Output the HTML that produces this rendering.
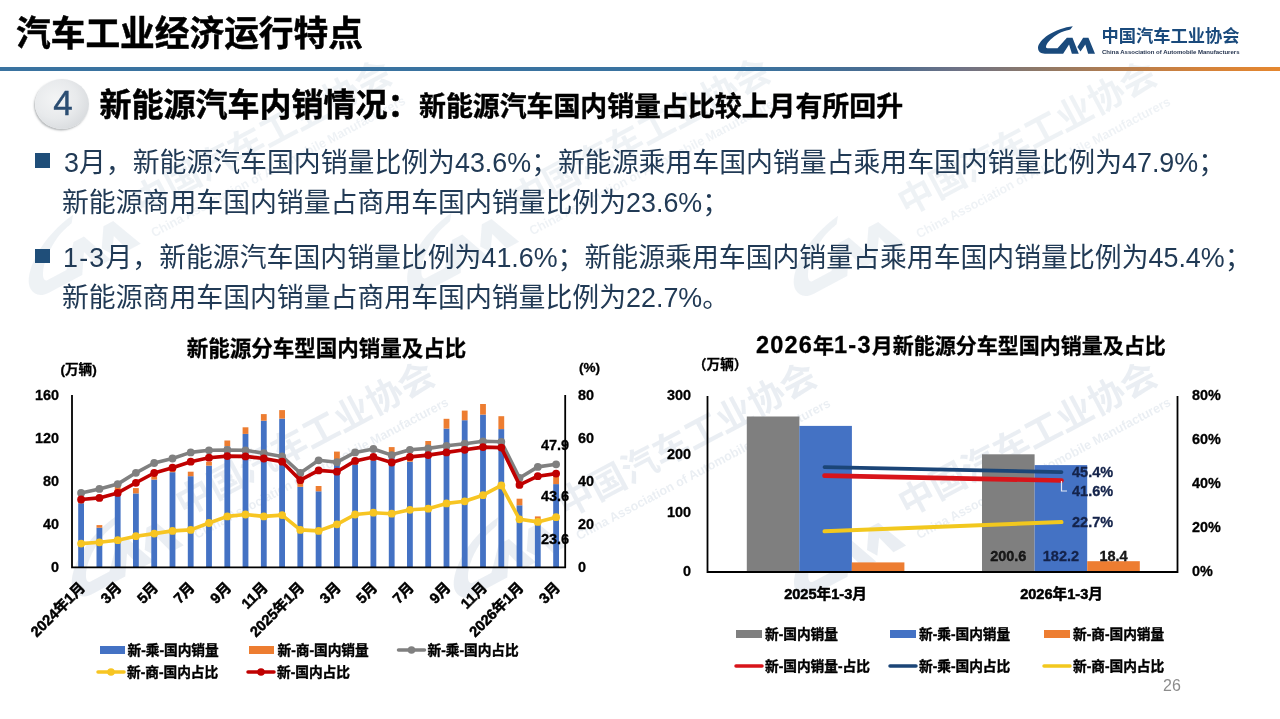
<!DOCTYPE html>
<html lang="zh-CN">
<head>
<meta charset="utf-8">
<title>汽车工业经济运行特点</title>
<style>
html,body{margin:0;padding:0;background:#fff;}
body{width:1280px;height:719px;position:relative;overflow:hidden;font-family:"Liberation Sans","Noto Sans CJK SC",sans-serif;color:#1a1a1a;}
.abs{position:absolute;white-space:nowrap;}
#title{left:16px;top:10px;font-size:34.7px;font-weight:700;line-height:48px;color:#000;-webkit-text-stroke:0.5px #000;}
#hline{left:0;top:66.5px;width:1280px;height:4.5px;background:linear-gradient(90deg,#3a73a0 0%,#3a73a0 58%,#4a6c90 69%,#6f7285 75%,#8d7868 81%,#b57d4e 87.5%,#d4823a 94%,#e5872f 100%);}
#num{left:35px;top:78.5px;width:54px;height:50px;border-radius:50%;background:radial-gradient(ellipse at 38% 40%,#f3f4f5 0%,#e8eaec 45%,#d6d9dc 82%,#c6cace 100%);box-shadow:-1px 1.5px 2px rgba(110,115,120,.5);text-align:center;line-height:48px;font-size:35px;color:#2b4d72;-webkit-text-stroke:0.4px #2b4d72;text-indent:2px;}
#sec1{left:99.5px;top:82.5px;font-size:32px;font-weight:700;line-height:44px;color:#000;-webkit-text-stroke:0.5px #000;}
#sec2{left:419px;top:86.5px;font-size:26.9px;font-weight:700;line-height:40px;color:#000;-webkit-text-stroke:0.4px #000;}
.bul{width:14.5px;height:14.5px;background:#1f4e79;}
.bt{font-size:26.86px;line-height:38px;color:#213a55;}
#pg{left:1163px;top:676px;font-size:16px;color:#8c8c8c;line-height:20px;}
svg text{font-family:"Liberation Sans","Noto Sans CJK SC",sans-serif;fill:#000;stroke:#000;stroke-width:0.3px;}
.ax{font-size:14.4px;font-weight:700;}
.un{font-size:13.6px;font-weight:700;}
.ct{font-size:21.5px;font-weight:700;}
.ct2{font-size:21px;font-weight:700;}
.n2{font-size:23.5px;letter-spacing:1.2px;}
.dl{font-size:14.5px;font-weight:700;}
.dl2{font-size:14.5px;font-weight:700;fill:#14234a;stroke:#14234a;}
.dl3{font-size:14.5px;font-weight:700;fill:#1a1a1a;}
.xl{font-size:14.6px;font-weight:700;stroke-width:0.5px;}
.lg{font-size:13.7px;font-weight:700;stroke-width:0.4px;}
svg text.lc{font-size:17.2px;font-weight:700;stroke:none;}
svg text.le{font-size:6.2px;font-weight:700;stroke:none;}
</style>
</head>
<body>
<svg class="abs" style="left:0;top:0" width="1280" height="719" viewBox="0 0 1280 719">
<g transform="translate(30,288) rotate(-28) scale(2.08)" opacity="0.068" fill="#1a4a7c"><g transform="translate(-8,-27.5) scale(0.0625)"><path d="M685,98 C560,112 400,165 290,240 C195,305 128,385 128,445 C128,505 170,540 240,540 L530,540 L625,390 L670,540 L780,540 L680,285 L590,285 L440,450 L280,450 C252,450 250,425 265,395 C300,325 390,250 500,195 C560,168 615,158 645,150 Z"/><path d="M850,285 L935,285 L1040,540 L930,540 L885,390 L808,505 L758,430 Z"/></g><text x="63.6" y="-5.6" class="lc" style="fill:#1a4a7c" textLength="138" lengthAdjust="spacingAndGlyphs">中国汽车工业协会</text><text x="64" y="6.6" class="le" style="fill:#1a4a7c" textLength="137.5" lengthAdjust="spacingAndGlyphs">China Association of Automobile Manufacturers</text></g>
<g transform="translate(408.4,286) rotate(-28) scale(2.08)" opacity="0.068" fill="#1a4a7c"><g transform="translate(-8,-27.5) scale(0.0625)"><path d="M685,98 C560,112 400,165 290,240 C195,305 128,385 128,445 C128,505 170,540 240,540 L530,540 L625,390 L670,540 L780,540 L680,285 L590,285 L440,450 L280,450 C252,450 250,425 265,395 C300,325 390,250 500,195 C560,168 615,158 645,150 Z"/><path d="M850,285 L935,285 L1040,540 L930,540 L885,390 L808,505 L758,430 Z"/></g><text x="63.6" y="-5.6" class="lc" style="fill:#1a4a7c" textLength="138" lengthAdjust="spacingAndGlyphs">中国汽车工业协会</text><text x="64" y="6.6" class="le" style="fill:#1a4a7c" textLength="137.5" lengthAdjust="spacingAndGlyphs">China Association of Automobile Manufacturers</text></g>
<g transform="translate(795,289) rotate(-28) scale(2.08)" opacity="0.068" fill="#1a4a7c"><g transform="translate(-8,-27.5) scale(0.0625)"><path d="M685,98 C560,112 400,165 290,240 C195,305 128,385 128,445 C128,505 170,540 240,540 L530,540 L625,390 L670,540 L780,540 L680,285 L590,285 L440,450 L280,450 C252,450 250,425 265,395 C300,325 390,250 500,195 C560,168 615,158 645,150 Z"/><path d="M850,285 L935,285 L1040,540 L930,540 L885,390 L808,505 L758,430 Z"/></g><text x="63.6" y="-5.6" class="lc" style="fill:#1a4a7c" textLength="138" lengthAdjust="spacingAndGlyphs">中国汽车工业协会</text><text x="64" y="6.6" class="le" style="fill:#1a4a7c" textLength="137.5" lengthAdjust="spacingAndGlyphs">China Association of Automobile Manufacturers</text></g>
<g transform="translate(73,589.5) rotate(-28) scale(2.08)" opacity="0.088" fill="#1a4a7c"><g transform="translate(-8,-27.5) scale(0.0625)"><path d="M685,98 C560,112 400,165 290,240 C195,305 128,385 128,445 C128,505 170,540 240,540 L530,540 L625,390 L670,540 L780,540 L680,285 L590,285 L440,450 L280,450 C252,450 250,425 265,395 C300,325 390,250 500,195 C560,168 615,158 645,150 Z"/><path d="M850,285 L935,285 L1040,540 L930,540 L885,390 L808,505 L758,430 Z"/></g><text x="63.6" y="-5.6" class="lc" style="fill:#1a4a7c" textLength="138" lengthAdjust="spacingAndGlyphs">中国汽车工业协会</text><text x="64" y="6.6" class="le" style="fill:#1a4a7c" textLength="137.5" lengthAdjust="spacingAndGlyphs">China Association of Automobile Manufacturers</text></g>
<g transform="translate(455,590.6) rotate(-28) scale(2.08)" opacity="0.088" fill="#1a4a7c"><g transform="translate(-8,-27.5) scale(0.0625)"><path d="M685,98 C560,112 400,165 290,240 C195,305 128,385 128,445 C128,505 170,540 240,540 L530,540 L625,390 L670,540 L780,540 L680,285 L590,285 L440,450 L280,450 C252,450 250,425 265,395 C300,325 390,250 500,195 C560,168 615,158 645,150 Z"/><path d="M850,285 L935,285 L1040,540 L930,540 L885,390 L808,505 L758,430 Z"/></g><text x="63.6" y="-5.6" class="lc" style="fill:#1a4a7c" textLength="138" lengthAdjust="spacingAndGlyphs">中国汽车工业协会</text><text x="64" y="6.6" class="le" style="fill:#1a4a7c" textLength="137.5" lengthAdjust="spacingAndGlyphs">China Association of Automobile Manufacturers</text></g>
<g transform="translate(795.3,589.7) rotate(-28) scale(2.08)" opacity="0.088" fill="#1a4a7c"><g transform="translate(-8,-27.5) scale(0.0625)"><path d="M685,98 C560,112 400,165 290,240 C195,305 128,385 128,445 C128,505 170,540 240,540 L530,540 L625,390 L670,540 L780,540 L680,285 L590,285 L440,450 L280,450 C252,450 250,425 265,395 C300,325 390,250 500,195 C560,168 615,158 645,150 Z"/><path d="M850,285 L935,285 L1040,540 L930,540 L885,390 L808,505 L758,430 Z"/></g><text x="63.6" y="-5.6" class="lc" style="fill:#1a4a7c" textLength="138" lengthAdjust="spacingAndGlyphs">中国汽车工业协会</text><text x="64" y="6.6" class="le" style="fill:#1a4a7c" textLength="137.5" lengthAdjust="spacingAndGlyphs">China Association of Automobile Manufacturers</text></g>
</svg>
<div id="title" class="abs">汽车工业经济运行特点</div>
<div id="hline" class="abs"></div>
<div id="num" class="abs">4</div>
<div id="sec1" class="abs">新能源汽车内销情况：</div>
<div id="sec2" class="abs">新能源汽车国内销量占比较上月有所回升</div>
<div class="abs bul" style="left:35px;top:153px"></div>
<div class="abs bt" id="b1" style="left:64px;top:143.7px">3月，新能源汽车国内销量比例为43.6%；新能源乘用车国内销量占乘用车国内销量比例为47.9%；</div>
<div class="abs bt" id="b2" style="left:62px;top:183.8px">新能源商用车国内销量占商用车国内销量比例为23.6%；</div>
<div class="abs bul" style="left:35px;top:248.5px"></div>
<div class="abs bt" id="b3" style="left:63px;top:238.6px"><span style="letter-spacing:1.2px">1-3</span>月，新能源汽车国内销量比例为41.6%；新能源乘用车国内销量占乘用车国内销量比例为45.4%；</div>
<div class="abs bt" id="b4" style="left:62px;top:278.8px">新能源商用车国内销量占商用车国内销量比例为22.7%。</div>
<svg class="abs" style="left:0;top:0" width="1280" height="719" viewBox="0 0 1280 719">
<rect x="78.2" y="503.2" width="5.8" height="64.2" fill="#4472c4"/>
<rect x="78.2" y="500.8" width="5.8" height="2.4" fill="#ed7d31"/>
<rect x="96.5" y="527.7" width="5.8" height="39.7" fill="#4472c4"/>
<rect x="96.5" y="525.1" width="5.8" height="2.6" fill="#ed7d31"/>
<rect x="114.8" y="492.1" width="5.8" height="75.3" fill="#4472c4"/>
<rect x="114.8" y="486.8" width="5.8" height="5.3" fill="#ed7d31"/>
<rect x="133.0" y="493.4" width="5.8" height="74.0" fill="#4472c4"/>
<rect x="133.0" y="488.1" width="5.8" height="5.3" fill="#ed7d31"/>
<rect x="151.3" y="479.6" width="5.8" height="87.8" fill="#4472c4"/>
<rect x="151.3" y="476.2" width="5.8" height="3.4" fill="#ed7d31"/>
<rect x="169.6" y="472.2" width="5.8" height="95.2" fill="#4472c4"/>
<rect x="169.6" y="469.1" width="5.8" height="3.1" fill="#ed7d31"/>
<rect x="187.8" y="476.2" width="5.8" height="91.2" fill="#4472c4"/>
<rect x="187.8" y="471.7" width="5.8" height="4.5" fill="#ed7d31"/>
<rect x="206.1" y="465.6" width="5.8" height="101.8" fill="#4472c4"/>
<rect x="206.1" y="461.7" width="5.8" height="3.9" fill="#ed7d31"/>
<rect x="224.4" y="446.3" width="5.8" height="121.1" fill="#4472c4"/>
<rect x="224.4" y="440.5" width="5.8" height="5.8" fill="#ed7d31"/>
<rect x="242.6" y="433.9" width="5.8" height="133.5" fill="#4472c4"/>
<rect x="242.6" y="427.3" width="5.8" height="6.6" fill="#ed7d31"/>
<rect x="260.9" y="420.7" width="5.8" height="146.7" fill="#4472c4"/>
<rect x="260.9" y="414.1" width="5.8" height="6.6" fill="#ed7d31"/>
<rect x="279.2" y="418.6" width="5.8" height="148.8" fill="#4472c4"/>
<rect x="279.2" y="410.1" width="5.8" height="8.5" fill="#ed7d31"/>
<rect x="297.4" y="486.8" width="5.8" height="80.6" fill="#4472c4"/>
<rect x="297.4" y="481.5" width="5.8" height="5.3" fill="#ed7d31"/>
<rect x="315.7" y="491.3" width="5.8" height="76.1" fill="#4472c4"/>
<rect x="315.7" y="486.0" width="5.8" height="5.3" fill="#ed7d31"/>
<rect x="334.0" y="459.0" width="5.8" height="108.4" fill="#4472c4"/>
<rect x="334.0" y="451.6" width="5.8" height="7.4" fill="#ed7d31"/>
<rect x="352.2" y="464.3" width="5.8" height="103.1" fill="#4472c4"/>
<rect x="352.2" y="459.0" width="5.8" height="5.3" fill="#ed7d31"/>
<rect x="370.5" y="460.3" width="5.8" height="107.1" fill="#4472c4"/>
<rect x="370.5" y="454.3" width="5.8" height="6.0" fill="#ed7d31"/>
<rect x="388.8" y="453.2" width="5.8" height="114.2" fill="#4472c4"/>
<rect x="388.8" y="447.1" width="5.8" height="6.1" fill="#ed7d31"/>
<rect x="407.0" y="461.7" width="5.8" height="105.7" fill="#4472c4"/>
<rect x="407.0" y="456.4" width="5.8" height="5.3" fill="#ed7d31"/>
<rect x="425.3" y="446.3" width="5.8" height="121.1" fill="#4472c4"/>
<rect x="425.3" y="441.0" width="5.8" height="5.3" fill="#ed7d31"/>
<rect x="443.6" y="428.6" width="5.8" height="138.8" fill="#4472c4"/>
<rect x="443.6" y="418.8" width="5.8" height="9.8" fill="#ed7d31"/>
<rect x="461.8" y="420.2" width="5.8" height="147.2" fill="#4472c4"/>
<rect x="461.8" y="410.6" width="5.8" height="9.6" fill="#ed7d31"/>
<rect x="480.1" y="414.6" width="5.8" height="152.8" fill="#4472c4"/>
<rect x="480.1" y="404.0" width="5.8" height="10.6" fill="#ed7d31"/>
<rect x="498.4" y="429.1" width="5.8" height="138.3" fill="#4472c4"/>
<rect x="498.4" y="416.2" width="5.8" height="12.9" fill="#ed7d31"/>
<rect x="516.6" y="505.3" width="5.8" height="62.1" fill="#4472c4"/>
<rect x="516.6" y="498.7" width="5.8" height="6.6" fill="#ed7d31"/>
<rect x="534.9" y="519.8" width="5.8" height="47.6" fill="#4472c4"/>
<rect x="534.9" y="516.4" width="5.8" height="3.4" fill="#ed7d31"/>
<rect x="553.2" y="484.1" width="5.8" height="83.3" fill="#4472c4"/>
<rect x="553.2" y="474.9" width="5.8" height="9.2" fill="#ed7d31"/>
<path d="M72.0 395.0 V567.4 H565.2 V395.0" fill="none" stroke="#000" stroke-width="1.8"/>
<polyline points="81.1,543.6 99.4,542.3 117.7,540.2 135.9,536.2 154.2,533.6 172.5,530.9 190.7,529.9 209.0,523.0 227.3,516.4 245.5,514.5 263.8,516.4 282.1,515.1 300.3,529.9 318.6,530.9 336.9,524.3 355.1,514.5 373.4,512.7 391.7,513.7 409.9,509.8 428.2,508.7 446.5,503.4 464.7,501.3 483.0,495.2 501.3,485.4 519.5,519.3 537.8,521.9 556.1,517.2" fill="none" stroke="#f7c522" stroke-width="3.6" stroke-linejoin="round" stroke-linecap="round"/>
<circle cx="81.1" cy="543.6" r="3.9" fill="#f7c522"/>
<circle cx="99.4" cy="542.3" r="3.9" fill="#f7c522"/>
<circle cx="117.7" cy="540.2" r="3.9" fill="#f7c522"/>
<circle cx="135.9" cy="536.2" r="3.9" fill="#f7c522"/>
<circle cx="154.2" cy="533.6" r="3.9" fill="#f7c522"/>
<circle cx="172.5" cy="530.9" r="3.9" fill="#f7c522"/>
<circle cx="190.7" cy="529.9" r="3.9" fill="#f7c522"/>
<circle cx="209.0" cy="523.0" r="3.9" fill="#f7c522"/>
<circle cx="227.3" cy="516.4" r="3.9" fill="#f7c522"/>
<circle cx="245.5" cy="514.5" r="3.9" fill="#f7c522"/>
<circle cx="263.8" cy="516.4" r="3.9" fill="#f7c522"/>
<circle cx="282.1" cy="515.1" r="3.9" fill="#f7c522"/>
<circle cx="300.3" cy="529.9" r="3.9" fill="#f7c522"/>
<circle cx="318.6" cy="530.9" r="3.9" fill="#f7c522"/>
<circle cx="336.9" cy="524.3" r="3.9" fill="#f7c522"/>
<circle cx="355.1" cy="514.5" r="3.9" fill="#f7c522"/>
<circle cx="373.4" cy="512.7" r="3.9" fill="#f7c522"/>
<circle cx="391.7" cy="513.7" r="3.9" fill="#f7c522"/>
<circle cx="409.9" cy="509.8" r="3.9" fill="#f7c522"/>
<circle cx="428.2" cy="508.7" r="3.9" fill="#f7c522"/>
<circle cx="446.5" cy="503.4" r="3.9" fill="#f7c522"/>
<circle cx="464.7" cy="501.3" r="3.9" fill="#f7c522"/>
<circle cx="483.0" cy="495.2" r="3.9" fill="#f7c522"/>
<circle cx="501.3" cy="485.4" r="3.9" fill="#f7c522"/>
<circle cx="519.5" cy="519.3" r="3.9" fill="#f7c522"/>
<circle cx="537.8" cy="521.9" r="3.9" fill="#f7c522"/>
<circle cx="556.1" cy="517.2" r="3.9" fill="#f7c522"/>
<polyline points="81.1,492.9 99.4,488.9 117.7,484.1 135.9,472.8 154.2,463.0 172.5,458.5 190.7,452.4 209.0,450.3 227.3,450.0 245.5,450.3 263.8,453.2 282.1,456.4 300.3,473.0 318.6,460.3 336.9,462.2 355.1,452.4 373.4,449.0 391.7,455.1 409.9,449.8 428.2,448.4 446.5,445.8 464.7,443.7 483.0,441.3 501.3,441.8 519.5,478.0 537.8,466.9 556.1,464.3" fill="none" stroke="#808080" stroke-width="3.6" stroke-linejoin="round" stroke-linecap="round"/>
<circle cx="81.1" cy="492.9" r="3.9" fill="#808080"/>
<circle cx="99.4" cy="488.9" r="3.9" fill="#808080"/>
<circle cx="117.7" cy="484.1" r="3.9" fill="#808080"/>
<circle cx="135.9" cy="472.8" r="3.9" fill="#808080"/>
<circle cx="154.2" cy="463.0" r="3.9" fill="#808080"/>
<circle cx="172.5" cy="458.5" r="3.9" fill="#808080"/>
<circle cx="190.7" cy="452.4" r="3.9" fill="#808080"/>
<circle cx="209.0" cy="450.3" r="3.9" fill="#808080"/>
<circle cx="227.3" cy="450.0" r="3.9" fill="#808080"/>
<circle cx="245.5" cy="450.3" r="3.9" fill="#808080"/>
<circle cx="263.8" cy="453.2" r="3.9" fill="#808080"/>
<circle cx="282.1" cy="456.4" r="3.9" fill="#808080"/>
<circle cx="300.3" cy="473.0" r="3.9" fill="#808080"/>
<circle cx="318.6" cy="460.3" r="3.9" fill="#808080"/>
<circle cx="336.9" cy="462.2" r="3.9" fill="#808080"/>
<circle cx="355.1" cy="452.4" r="3.9" fill="#808080"/>
<circle cx="373.4" cy="449.0" r="3.9" fill="#808080"/>
<circle cx="391.7" cy="455.1" r="3.9" fill="#808080"/>
<circle cx="409.9" cy="449.8" r="3.9" fill="#808080"/>
<circle cx="428.2" cy="448.4" r="3.9" fill="#808080"/>
<circle cx="446.5" cy="445.8" r="3.9" fill="#808080"/>
<circle cx="464.7" cy="443.7" r="3.9" fill="#808080"/>
<circle cx="483.0" cy="441.3" r="3.9" fill="#808080"/>
<circle cx="501.3" cy="441.8" r="3.9" fill="#808080"/>
<circle cx="519.5" cy="478.0" r="3.9" fill="#808080"/>
<circle cx="537.8" cy="466.9" r="3.9" fill="#808080"/>
<circle cx="556.1" cy="464.3" r="3.9" fill="#808080"/>
<polyline points="81.1,499.5 99.4,497.9 117.7,492.9 135.9,482.8 154.2,473.0 172.5,467.7 190.7,461.7 209.0,457.7 227.3,456.1 245.5,456.4 263.8,458.5 282.1,461.7 300.3,480.2 318.6,470.4 336.9,471.7 355.1,460.9 373.4,456.9 391.7,462.5 409.9,456.9 428.2,455.1 446.5,452.4 464.7,449.8 483.0,447.1 501.3,447.6 519.5,484.9 537.8,476.2 556.1,473.6" fill="none" stroke="#c00000" stroke-width="3.6" stroke-linejoin="round" stroke-linecap="round"/>
<circle cx="81.1" cy="499.5" r="3.9" fill="#c00000"/>
<circle cx="99.4" cy="497.9" r="3.9" fill="#c00000"/>
<circle cx="117.7" cy="492.9" r="3.9" fill="#c00000"/>
<circle cx="135.9" cy="482.8" r="3.9" fill="#c00000"/>
<circle cx="154.2" cy="473.0" r="3.9" fill="#c00000"/>
<circle cx="172.5" cy="467.7" r="3.9" fill="#c00000"/>
<circle cx="190.7" cy="461.7" r="3.9" fill="#c00000"/>
<circle cx="209.0" cy="457.7" r="3.9" fill="#c00000"/>
<circle cx="227.3" cy="456.1" r="3.9" fill="#c00000"/>
<circle cx="245.5" cy="456.4" r="3.9" fill="#c00000"/>
<circle cx="263.8" cy="458.5" r="3.9" fill="#c00000"/>
<circle cx="282.1" cy="461.7" r="3.9" fill="#c00000"/>
<circle cx="300.3" cy="480.2" r="3.9" fill="#c00000"/>
<circle cx="318.6" cy="470.4" r="3.9" fill="#c00000"/>
<circle cx="336.9" cy="471.7" r="3.9" fill="#c00000"/>
<circle cx="355.1" cy="460.9" r="3.9" fill="#c00000"/>
<circle cx="373.4" cy="456.9" r="3.9" fill="#c00000"/>
<circle cx="391.7" cy="462.5" r="3.9" fill="#c00000"/>
<circle cx="409.9" cy="456.9" r="3.9" fill="#c00000"/>
<circle cx="428.2" cy="455.1" r="3.9" fill="#c00000"/>
<circle cx="446.5" cy="452.4" r="3.9" fill="#c00000"/>
<circle cx="464.7" cy="449.8" r="3.9" fill="#c00000"/>
<circle cx="483.0" cy="447.1" r="3.9" fill="#c00000"/>
<circle cx="501.3" cy="447.6" r="3.9" fill="#c00000"/>
<circle cx="519.5" cy="484.9" r="3.9" fill="#c00000"/>
<circle cx="537.8" cy="476.2" r="3.9" fill="#c00000"/>
<circle cx="556.1" cy="473.6" r="3.9" fill="#c00000"/>
<text x="59" y="400.0" text-anchor="end" class="ax">160</text>
<text x="59" y="443.1" text-anchor="end" class="ax">120</text>
<text x="59" y="486.2" text-anchor="end" class="ax">80</text>
<text x="59" y="529.3" text-anchor="end" class="ax">40</text>
<text x="59" y="572.4" text-anchor="end" class="ax">0</text>
<text x="578" y="400.0" class="ax">80</text>
<text x="578" y="443.1" class="ax">60</text>
<text x="578" y="486.2" class="ax">40</text>
<text x="578" y="529.3" class="ax">20</text>
<text x="578" y="572.4" class="ax">0</text>
<text x="60.5" y="373.5" class="un">(万辆)</text>
<text x="579" y="372" class="un">(%)</text>
<text x="326.5" y="356" text-anchor="middle" class="ct">新能源分车型国内销量及占比</text>
<text x="555" y="450" text-anchor="middle" class="dl">47.9</text>
<text x="555" y="500.5" text-anchor="middle" class="dl">43.6</text>
<text x="555" y="543.5" text-anchor="middle" class="dl">23.6</text>
<text transform="translate(86.1,588.5) rotate(-45)" text-anchor="end" class="xl">2024年1月</text>
<text transform="translate(122.7,588.5) rotate(-45)" text-anchor="end" class="xl">3月</text>
<text transform="translate(159.2,588.5) rotate(-45)" text-anchor="end" class="xl">5月</text>
<text transform="translate(195.7,588.5) rotate(-45)" text-anchor="end" class="xl">7月</text>
<text transform="translate(232.3,588.5) rotate(-45)" text-anchor="end" class="xl">9月</text>
<text transform="translate(268.8,588.5) rotate(-45)" text-anchor="end" class="xl">11月</text>
<text transform="translate(305.3,588.5) rotate(-45)" text-anchor="end" class="xl">2025年1月</text>
<text transform="translate(341.9,588.5) rotate(-45)" text-anchor="end" class="xl">3月</text>
<text transform="translate(378.4,588.5) rotate(-45)" text-anchor="end" class="xl">5月</text>
<text transform="translate(414.9,588.5) rotate(-45)" text-anchor="end" class="xl">7月</text>
<text transform="translate(451.5,588.5) rotate(-45)" text-anchor="end" class="xl">9月</text>
<text transform="translate(488.0,588.5) rotate(-45)" text-anchor="end" class="xl">11月</text>
<text transform="translate(524.5,588.5) rotate(-45)" text-anchor="end" class="xl">2026年1月</text>
<text transform="translate(561.1,588.5) rotate(-45)" text-anchor="end" class="xl">3月</text>
<rect x="100" y="646.0" width="25" height="8" fill="#4472c4"/>
<text x="127.5" y="654.5" class="lg">新-乘-国内销量</text>
<rect x="249" y="646.0" width="25" height="8" fill="#ed7d31"/>
<text x="277.5" y="654.5" class="lg">新-商-国内销量</text>
<line x1="398.5" y1="650" x2="424.5" y2="650" stroke="#808080" stroke-width="3.5" stroke-linecap="round"/>
<circle cx="411.5" cy="650" r="3.8" fill="#808080"/>
<text x="427.5" y="654.5" class="lg">新-乘-国内占比</text>
<line x1="98" y1="672" x2="124" y2="672" stroke="#f7c522" stroke-width="3.5" stroke-linecap="round"/>
<circle cx="111.0" cy="672" r="3.8" fill="#f7c522"/>
<text x="127" y="676.5" class="lg">新-商-国内占比</text>
<line x1="248" y1="672" x2="274" y2="672" stroke="#c00000" stroke-width="3.5" stroke-linecap="round"/>
<circle cx="261.0" cy="672" r="3.8" fill="#c00000"/>
<text x="277" y="676.5" class="lg">新-国内占比</text>
</svg>
<svg class="abs" style="left:0;top:0;pointer-events:none" width="1280" height="719" viewBox="0 0 1280 719">
<g transform="translate(1038,47.5) rotate(0) scale(1)" opacity="1" fill="#1a4a7c"><g transform="translate(-8,-27.5) scale(0.0625)"><path d="M685,98 C560,112 400,165 290,240 C195,305 128,385 128,445 C128,505 170,540 240,540 L530,540 L625,390 L670,540 L780,540 L680,285 L590,285 L440,450 L280,450 C252,450 250,425 265,395 C300,325 390,250 500,195 C560,168 615,158 645,150 Z"/><path d="M850,285 L935,285 L1040,540 L930,540 L885,390 L808,505 L758,430 Z"/></g><text x="63.6" y="-5.6" class="lc" style="fill:#1a4a7c" textLength="138" lengthAdjust="spacingAndGlyphs">中国汽车工业协会</text><text x="64" y="6.6" class="le" style="fill:#1c2c48" textLength="137.5" lengthAdjust="spacingAndGlyphs">China Association of Automobile Manufacturers</text></g>
</svg>
<svg class="abs" style="left:0;top:0" width="1280" height="719" viewBox="0 0 1280 719">
<rect x="746.8" y="416.5" width="52.6" height="155.5" fill="#7f7f7f"/>
<rect x="799.3" y="425.9" width="52.6" height="146.1" fill="#4472c4"/>
<rect x="851.8" y="562.4" width="52.6" height="9.6" fill="#ed7d31"/>
<rect x="982.0" y="454.3" width="52.6" height="117.7" fill="#7f7f7f"/>
<rect x="1034.6" y="465.1" width="52.6" height="106.9" fill="#4472c4"/>
<rect x="1087.2" y="561.2" width="52.6" height="10.8" fill="#ed7d31"/>
<path d="M707.5 396.0 V572.0 H1177.5 V396.0" fill="none" stroke="#000" stroke-width="1.8"/>
<line x1="824.5" y1="467.1" x2="1061.5" y2="472.1" stroke="#1b4577" stroke-width="3.7" stroke-linecap="round"/>
<line x1="824.5" y1="475.6" x2="1061.5" y2="480.5" stroke="#d8141a" stroke-width="4.6" stroke-linecap="round"/>
<line x1="824.5" y1="531.3" x2="1061.5" y2="522.1" stroke="#f2c81e" stroke-width="4.0" stroke-linecap="round"/>
<path d="M1061.5 481 V491 H1067" fill="none" stroke="#e3e9f5" stroke-width="1.2"/>
<text x="691" y="400.0" text-anchor="end" class="ax">300</text>
<text x="691" y="458.7" text-anchor="end" class="ax">200</text>
<text x="691" y="517.3" text-anchor="end" class="ax">100</text>
<text x="691" y="576.0" text-anchor="end" class="ax">0</text>
<text x="1192" y="399.7" class="ax">80%</text>
<text x="1192" y="443.7" class="ax">60%</text>
<text x="1192" y="487.7" class="ax">40%</text>
<text x="1192" y="531.7" class="ax">20%</text>
<text x="1192" y="575.7" class="ax">0%</text>
<text x="693" y="368.8" class="un">（万辆）</text>
<text x="756" y="352.5" class="ct2"><tspan class="n2">2026</tspan>年<tspan class="n2">1-3</tspan>月新能源分车型国内销量及占比</text>
<text x="1072" y="477" class="dl2">45.4%</text>
<text x="1072" y="496" class="dl2">41.6%</text>
<text x="1072" y="527" class="dl2">22.7%</text>
<text x="1008.3" y="560.5" text-anchor="middle" class="dl3">200.6</text>
<text x="1060.9" y="560.5" text-anchor="middle" class="dl2">182.2</text>
<text x="1113.5" y="560.5" text-anchor="middle" class="dl3">18.4</text>
<text x="825.5" y="598.5" text-anchor="middle" class="xl">2025年1-3月</text>
<text x="1061.5" y="598.5" text-anchor="middle" class="xl">2026年1-3月</text>
<rect x="736" y="630.0" width="26" height="8" fill="#7f7f7f"/>
<text x="765" y="638.5" class="lg">新-国内销量</text>
<rect x="890" y="630.0" width="26" height="8" fill="#4472c4"/>
<text x="919" y="638.5" class="lg">新-乘-国内销量</text>
<rect x="1044" y="630.0" width="26" height="8" fill="#ed7d31"/>
<text x="1073" y="638.5" class="lg">新-商-国内销量</text>
<line x1="736" y1="666" x2="762" y2="666" stroke="#d8141a" stroke-width="3.5" stroke-linecap="round"/>
<text x="765" y="670.5" class="lg">新-国内销量-占比</text>
<line x1="890" y1="666" x2="916" y2="666" stroke="#1b4577" stroke-width="3.5" stroke-linecap="round"/>
<text x="919" y="670.5" class="lg">新-乘-国内占比</text>
<line x1="1044" y1="666" x2="1070" y2="666" stroke="#f2c81e" stroke-width="3.5" stroke-linecap="round"/>
<text x="1073" y="670.5" class="lg">新-商-国内占比</text>
</svg>
<div id="pg" class="abs">26</div>
</body>
</html>
